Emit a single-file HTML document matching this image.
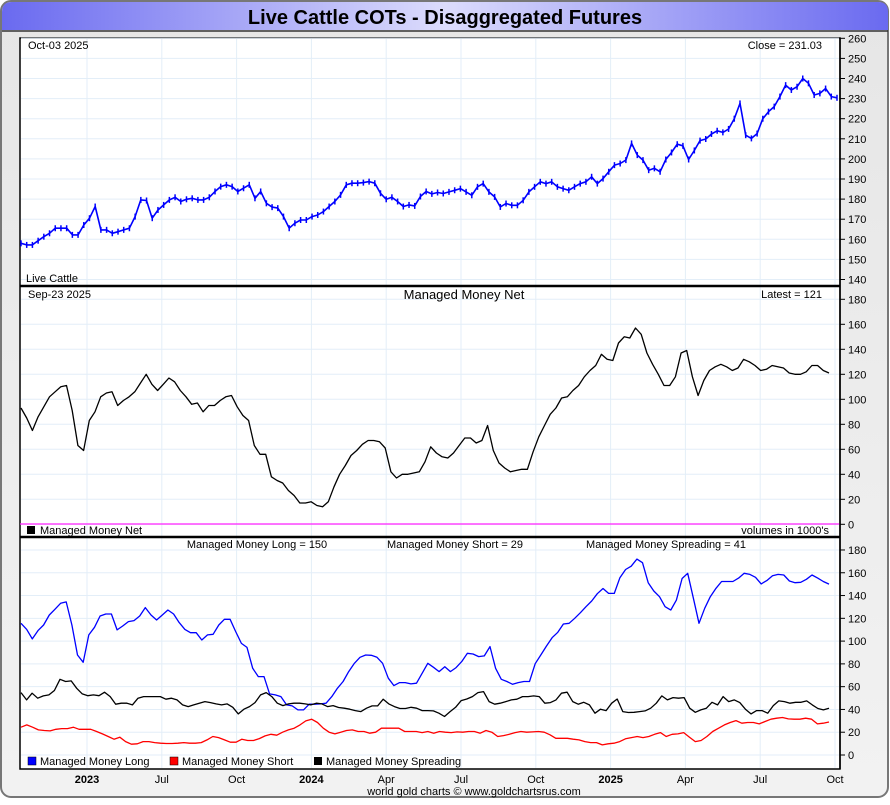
<!DOCTYPE html>
<html><head><meta charset="utf-8">
<style>
body{margin:0;width:890px;height:800px;overflow:hidden;background:#fff;font-family:"Liberation Sans",sans-serif;}
svg text{font-family:"Liberation Sans",sans-serif;}
</style></head>
<body>
<svg id="c" width="890" height="800" xmlns="http://www.w3.org/2000/svg">
<defs>
<linearGradient id="tg" x1="0" x2="1" y1="0" y2="0">
<stop offset="0" stop-color="#6a6af0"/><stop offset="0.5" stop-color="#dcdcfc"/><stop offset="1" stop-color="#6a6af0"/>
</linearGradient>
<linearGradient id="bg" x1="0" x2="0" y1="0" y2="1">
<stop offset="0" stop-color="#e6e6e6"/><stop offset="1" stop-color="#f2f2f2"/>
</linearGradient>
</defs>
<rect x="1" y="1" width="887" height="796" rx="10" fill="url(#bg)" stroke="#777" stroke-width="2"/>
<path d="M2,30 L2,12 Q2,2 12,2 L878,2 Q888,2 888,12 L888,30 Z" fill="url(#tg)"/>
<line x1="2" y1="31" x2="888" y2="31" stroke="#333" stroke-width="1.5"/>
<text x="445" y="24" text-anchor="middle" font-size="20" font-weight="bold" fill="#000">Live Cattle COTs - Disaggregated Futures</text>
<rect x="20" y="38" width="820" height="731" fill="#fff" stroke="#000" stroke-width="1.5"/>
<g id="grid"></g>
<g id="marks"></g>
<line x1="20" y1="286" x2="840" y2="286" stroke="#000" stroke-width="2.5"/>
<line x1="20" y1="537" x2="840" y2="537" stroke="#000" stroke-width="2.5"/>
<line x1="20" y1="524" x2="840" y2="524" stroke="#ff22ff" stroke-width="1.2"/>
<line x1="840" y1="38" x2="840" y2="769" stroke="#000" stroke-width="1.5"/>
<g font-size="11" fill="#000">
<text x="28" y="49">Oct-03  2025</text>
<text x="822" y="49" text-anchor="end">Close = 231.03</text>
<text x="26" y="282">Live Cattle</text>
<text x="28" y="298">Sep-23  2025</text>
<text x="464" y="299" text-anchor="middle" font-size="13">Managed Money Net</text>
<text x="822" y="298" text-anchor="end">Latest = 121</text>
<rect x="27" y="526" width="8" height="8" fill="#000"/>
<text x="40" y="534">Managed Money Net</text>
<text x="829" y="534" text-anchor="end">volumes in 1000's</text>
<text x="257" y="548" text-anchor="middle">Managed Money Long = 150</text>
<text x="455" y="548" text-anchor="middle">Managed Money Short = 29</text>
<text x="666" y="548" text-anchor="middle">Managed Money Spreading = 41</text>
<rect x="28" y="757" width="8" height="8" fill="#0000ff" stroke="#000" stroke-width="0.5"/>
<text x="40" y="765">Managed Money Long</text>
<rect x="170" y="757" width="8" height="8" fill="#ff0000" stroke="#000" stroke-width="0.5"/>
<text x="182" y="765">Managed Money Short</text>
<rect x="314" y="757" width="8" height="8" fill="#000"/>
<text x="326" y="765">Managed Money Spreading</text>
<text x="474" y="795" text-anchor="middle">world gold charts © www.goldchartsrus.com</text>
</g>
<g id="axes" font-size="11" fill="#000"></g>
</svg>
<script>
const priceValues=[158,157.2,157.2,159.3,161.3,163,165.5,165.5,165.5,162.2,162.2,167.1,170.5,176.3,164.7,164.7,163,163.8,164.7,165.5,171.3,179.6,179.3,170.5,174.6,177.1,179.6,180.9,178.8,179.9,180.4,179.6,179.6,180.9,183.8,186.2,187.1,186.2,183.8,185.4,187.1,180.4,183.8,177.9,176,175.5,171.3,165.5,168,169.6,169.6,171.3,172.1,173.8,176.3,178.8,182.1,187.1,187.9,187.9,188.2,188.7,187.9,182.9,179.9,180.9,178.8,176.3,177.1,176.6,181.3,183.8,182.6,183.3,182.8,183.6,184.4,185.2,183.6,181.9,186.1,187.7,183.6,181.1,176.1,177.8,176.9,176.9,179.4,183.6,186.1,188.6,187.7,188.6,186.1,185.2,184.4,186.1,187.7,188.6,191.1,187.7,190.2,193.6,196.9,197.7,199.4,207.7,201.9,199.4,194.4,195.3,193.6,199.7,203.2,207.3,206.5,199.7,204.2,209.1,209.9,212.4,214,213.2,214.9,220,227.6,211.8,210.2,212.6,220,223.5,226,231,236.7,234.3,235.9,240,237.6,231.8,232.6,235,231,230.4];
const netValues=[93,85,75,86,94,102,106,110,111,91,63,59,83,90,102,105,106,95,99,102,106,113,120,112,107,112,117,114,107,102,96,97,90,95,95,99,102,103,94,87,83,63,56,56,38,35,33,27,23,17,17,18,15,14,18,30,40,47,55,59,64,67,67,66,61,42,37,40,40,41,42,50,62,57,54,53,57,63,69,69,65,67,79,59,49,45,42,43,44,44,58,70,79,88,93,101,102,107,111,118,123,127,136,132,131,145,150,149,157,152,137,128,120,111,111,118,137,139,118,103,115,123,126,128,126,123,125,132,130,127,123,124,127,126,125,121,120,120,122,127,127,123,121];
const longValues=[115.6,110.3,101.9,109.2,114.1,122.9,127.9,133.2,134.4,114.1,87.8,81.4,105.4,112.1,122,123.8,123.8,109.8,113.3,117.1,118,122,129.4,122.9,118.5,122.9,127.3,123.8,116.2,110.3,107.4,107.4,101,105.4,106,114.1,119.1,119.1,108.3,98,94.5,76.1,68.8,68.8,53.6,52.8,51.3,44,43.1,39.6,39.6,44.6,44.6,44.9,45.5,51.3,58.6,64.5,73.2,80.5,85.8,87.8,87.5,85.8,80.5,67.4,60.9,63.6,63.6,62.4,63,71.8,80.5,77,73.2,77.5,73.2,76.7,82,89.3,88.7,86.4,87,95.2,76.1,66.5,64.5,62.1,63.6,64.5,64.5,80.2,87.8,95.7,103,107.7,115,115.6,120,124.9,130.2,135.2,141.6,146.2,141.9,141.9,155.7,162.9,165.8,172,168.8,151.3,144,139,130.2,127.3,136,155,159.5,137.6,115.6,128.8,139,146.4,152.3,152.3,152.3,155.3,159.5,158.6,156,150.2,153.1,157.4,158.6,158,152.8,151.3,151.6,154.3,158,155.3,152.3,150];
const shortValues=[24.4,26.4,24.4,22,21.5,21.2,22.6,23.2,23.2,24.4,22.6,22.6,22.6,20.6,18.5,16.2,13.9,15.6,11.8,9.5,9.8,11.8,11.8,10.9,10.4,10.1,10.1,10.4,10.9,10.4,10.4,10.9,13.3,16.2,15.3,13.3,11.2,11.2,13.9,12.7,12.7,14.4,16.8,18.2,17.4,20,22,23.5,26.4,29.9,31.4,28.5,23.5,20,18.5,20,21.5,22,20.6,20.6,19.1,20,23.5,23.5,23.5,23.5,20.6,20.6,20.6,19.7,20.6,19.1,20.6,20,19.7,20.3,20,20.6,20.6,19.1,21.5,20,16.2,17,18.2,19.7,20.6,20,20.3,20.6,20,17.7,14.7,14.7,14.7,13.9,13.3,11.8,10.9,10.9,8.9,9.8,10.4,11.8,14.2,15.3,16.2,15.3,16.2,18.2,19.7,16.2,18.2,18.5,19.7,15.6,11.8,12.7,16.2,20.6,23.5,26.4,28.5,30.2,27.9,28.5,28.5,27.3,29.4,31.4,32.3,32.9,31.7,31.4,31.4,32.3,31.4,27.3,27.9,29];
const spreadValues=[54.8,48.4,54.3,49.9,51.9,52.8,56.6,66.5,64.5,65.1,58.6,53.6,52.1,52.8,52.1,55.1,51.3,44.6,45.5,45.5,44,49.9,51.3,51.3,51.3,51.3,49,49.9,48.4,44,42.5,44,45.5,46.9,46,44.9,44,44.9,41.9,36.1,40.2,42.5,46,52.8,54.8,51.3,45.5,43.4,44.9,45.5,45.5,44.9,44,45.5,44.9,42.5,43.4,41.7,41.1,40.2,39,38.1,41.1,43.1,43.1,49,44.9,42.5,40.8,40.8,41.9,41.1,39,39,38.7,36.7,33.8,38.1,41.9,47.8,49.2,51.3,54.8,55.7,46.9,44.6,45.5,46.9,48.4,49,51.3,51.3,51.9,51.3,45.5,46,48.4,54.3,55.1,46.9,44.6,46.3,44,36.7,40.2,39,45.5,49.2,38.1,37.3,37.5,38.1,38.7,41.1,45.5,51.9,48.4,50.4,49.9,50.4,41.1,37.5,39.6,41.1,46.3,44,51.3,46.9,48.4,46,40.2,36.1,39,39,36.7,43.4,47.5,46.9,45.5,46.3,46.3,47.5,44,40.8,39.6,41.1];
const priceTicks=[140,150,160,170,180,190,200,210,220,230,240,250,260];
const netTicks=[0,20,40,60,80,100,120,140,160,180];
const cotTicks=[0,20,40,60,80,100,120,140,160,180];
const xLabels=["2023","Jul","Oct","2024","Apr","Jul","Oct","2025","Apr","Jul","Oct"];
const xLabelBold=[true,false,false,true,false,false,false,true,false,false,false];

const NS="http://www.w3.org/2000/svg";
function mk(tag,attrs,parent){const e=document.createElementNS(NS,tag);for(const k in attrs)e.setAttribute(k,attrs[k]);parent.appendChild(e);return e;}
const grid=document.getElementById('grid'),marks=document.getElementById('marks'),axes=document.getElementById('axes');
const yPrice=v=>38.3+(260-v)*2.01;
const yNet=v=>524.3-v*1.25;
const yCot=v=>755-v*1.139;
const xQuarter=i=>87+i*74.8;
function xSeries(i,n,x0,x1){return x0+(x1-x0)*i/(n-1);}

xLabels.forEach((lab,i)=>{
  const x=xQuarter(i);
  if(x<839){const l=mk('line',{x1:x,x2:x,y1:39,y2:768,stroke:'#e3eef8','stroke-width':1},grid);
  
  }
  const t=mk('text',{x:x,y:783,'text-anchor':'middle','font-size':11,'font-weight':xLabelBold[i]?'bold':'normal'},axes);
  t.textContent=lab;
  
  
});
function hTicks(ticks,yf,ymin,ymax,name){
  ticks.forEach(v=>{
    const y=yf(v);
    if(y>ymin&&y<ymax){const g=mk('line',{x1:21,x2:839,y1:y,y2:y,stroke:'#e3eef8','stroke-width':1},grid);
    
    }
    const tk=mk('line',{x1:840,x2:845,y1:y,y2:y,stroke:'#000','stroke-width':1},axes);
    
    
    const t=mk('text',{x:848,y:y+4,'font-size':11},axes);
    t.textContent=v;
    
    
  });
}
hTicks(priceTicks,yPrice,38,286,'price-axis');
hTicks(netTicks,yNet,287,537,'net-axis');
hTicks(cotTicks,yCot,538,768,'cot-axis');

function line(vals,yf,x0,x1,color,w,name){
  const pts=vals.map((v,i)=>xSeries(i,vals.length,x0,x1).toFixed(1)+','+yf(v).toFixed(1)).join(' ');
  const p=mk('polyline',{points:pts,fill:'none',stroke:color,'stroke-width':w,'stroke-linejoin':'round'},marks);
  
  
}
priceValues.forEach((v,i)=>{
  const x=xSeries(i,priceValues.length,21,837);
  const b=mk('line',{x1:x,x2:x,y1:yPrice(v)-3,y2:yPrice(v)+3,stroke:'#0000ff','stroke-width':1.5},marks);
  
  
});
line(priceValues,yPrice,21,837,'#0000ff',1.6,'price-line');
line(netValues,yNet,21,829,'#000',1.3,'net-line');
line(longValues,yCot,21,829,'#0000ff',1.3,'long-line');
line(shortValues,yCot,21,829,'#ff0000',1.3,'short-line');
line(spreadValues,yCot,21,829,'#000',1.3,'spreading-line');
</script>
</body></html>
